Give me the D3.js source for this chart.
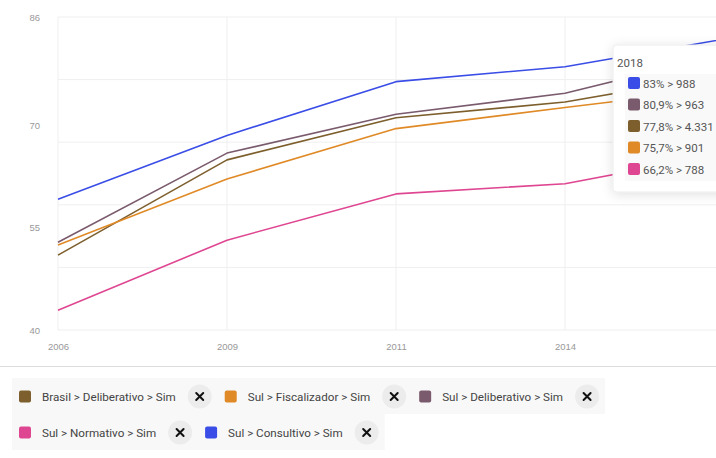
<!DOCTYPE html>
<html>
<head>
<meta charset="utf-8">
<script src="https://cdn.jsdelivr.net/npm/d3@7"></script>
<style>
  html, body { margin: 0; padding: 0; background: #fff; overflow: hidden; }
  svg { display: block; }
</style>
</head>
<body>
<svg id="chart" width="716" height="458"></svg>
<script>
// Years on the x axis
const years = ["2006", "2009", "2011", "2014", "2018"];

// Share of municipalities answering "Sim" (%) per council type
const brasilDeliberativo = [51.0, 65.0, 71.2, 73.5, 77.8];
const sulFiscalizador    = [52.5, 62.2, 69.6, 72.7, 75.7];
const sulDeliberativo    = [52.9, 66.0, 71.7, 74.8, 80.9];
const sulNormativo       = [42.9, 53.2, 60.0, 61.5, 66.2];
const sulConsultivo      = [59.2, 68.6, 76.5, 78.7, 83.0];

// Municipality counts shown in the 2018 tooltip
const counts2018 = { bd: "4.331", sf: "901", sd: "963", sn: "788", sc: "988" };

// Y axis labels
const yTickLabels = [40, 55, 70, 86];

const series = [
  { key: "bd", name: "Brasil > Deliberativo > Sim", values: brasilDeliberativo, color: "#7d5f2e" },
  { key: "sf", name: "Sul > Fiscalizador > Sim",    values: sulFiscalizador,    color: "#e08a27" },
  { key: "sd", name: "Sul > Deliberativo > Sim",    values: sulDeliberativo,    color: "#7a5b6d" },
  { key: "sn", name: "Sul > Normativo > Sim",       values: sulNormativo,       color: "#df4691" },
  { key: "sc", name: "Sul > Consultivo > Sim",      values: sulConsultivo,      color: "#3a4de6" }
];

const svg = d3.select("#chart");
const W = 716;

const x = d3.scalePoint().domain(years).range([58, 734]);
const y = d3.scaleLinear().domain([40, 86]).range([330, 17]);

const defs = svg.append("defs");
const shadow = defs.append("filter").attr("id", "tipShadow")
  .attr("x", "-40%").attr("y", "-40%").attr("width", "180%").attr("height", "180%");
shadow.append("feDropShadow").attr("dx", 0).attr("dy", 2).attr("stdDeviation", 6)
  .attr("flood-color", "#000").attr("flood-opacity", 0.12);

// Grid: horizontal lines split the value range in five equal bands
const grid = svg.append("g");
const gridVals = d3.range(6).map(i => 40 + i * (86 - 40) / 5);
grid.selectAll("line.h").data(gridVals).join("line")
  .attr("x1", x(years[0])).attr("x2", W)
  .attr("y1", d => y(d)).attr("y2", d => y(d))
  .attr("stroke", "#efefef").attr("stroke-width", 1);
grid.selectAll("line.v").data(years).join("line")
  .attr("x1", d => x(d)).attr("x2", d => x(d))
  .attr("y1", y(86)).attr("y2", y(40))
  .attr("stroke", "#efefef").attr("stroke-width", 1);

// Y axis labels
const yAxis = d3.axisLeft(y).tickValues(yTickLabels).tickSize(0).tickPadding(0);
svg.append("g").attr("transform", "translate(40,0)").call(yAxis)
  .call(g => g.select(".domain").remove())
  .call(g => g.selectAll("text").attr("fill", "#999")
    .attr("font-family", "'Liberation Sans', Arial, sans-serif").attr("font-size", "9.5px"));

// X axis labels
const xAxis = d3.axisBottom(x).tickSize(0).tickPadding(0);
svg.append("g").attr("transform", "translate(0,343)").call(xAxis)
  .call(g => g.select(".domain").remove())
  .call(g => g.selectAll("text").attr("fill", "#999")
    .attr("font-family", "'Liberation Sans', Arial, sans-serif").attr("font-size", "9.5px"));

// Lines
const line = d3.line().x((d, i) => x(years[i])).y(d => y(d));
svg.append("g").selectAll("path").data(series).join("path")
  .attr("d", d => line(d.values))
  .attr("fill", "none")
  .attr("stroke", d => d.color)
  .attr("stroke-width", 1.6)
  .attr("stroke-linejoin", "round");

// Separator above the legend
svg.append("line").attr("x1", 0).attr("x2", W).attr("y1", 366.5).attr("y2", 366.5)
  .attr("stroke", "#dcdcdc").attr("stroke-width", 1);

// Tooltip for 2018
const tip = svg.append("g").attr("transform", "translate(613,45)");
tip.append("rect").attr("width", 130).attr("height", 147).attr("rx", 3)
  .attr("fill", "#fff").attr("stroke", "#ececec").attr("filter", "url(#tipShadow)");
tip.append("text").attr("x", 4).attr("y", 22).text(years[4])
  .attr("fill", "#555").attr("font-family", "Roboto, sans-serif").attr("font-size", "11.5px");
tip.append("rect").attr("x", 12).attr("y", 29).attr("width", 120).attr("height", 107)
  .attr("fill", "#f9f9f9");
const tipRows = series.slice().sort((a, b) => b.values[4] - a.values[4]);
const tipItem = tip.selectAll("g.item").data(tipRows).join("g")
  .attr("transform", (d, i) => `translate(15,${32 + i * 21.5})`);
tipItem.append("rect").attr("width", 12).attr("height", 12).attr("rx", 2)
  .attr("fill", d => d.color);
tipItem.append("text").attr("x", 15).attr("y", 10.5)
  .text(d => `${d3.format(".1f")(d.values[4]).replace(/\.0$/, "").replace(".", ",")}% > ${counts2018[d.key]}`)
  .attr("fill", "#555").attr("font-family", "Roboto, sans-serif").attr("font-size", "11.5px");

// Legend chips laid out in flowing rows
const legend = svg.append("g");
const rowsY = [378, 414];
const legendRows = [series.slice(0, 3), series.slice(3)];
legendRows.forEach((row, r) => {
  let cx = 12;
  row.forEach(s => {
    const g = legend.append("g").attr("transform", `translate(${cx},${rowsY[r]})`);
    const bg = g.append("rect").attr("height", 36).attr("fill", "#f8f8f8");
    g.append("rect").attr("x", 7).attr("y", 12.5).attr("width", 12).attr("height", 12).attr("rx", 2)
      .attr("fill", s.color);
    const t = g.append("text").attr("x", 30).attr("y", 22.5).text(s.name)
      .attr("fill", "#444").attr("font-family", "Roboto, sans-serif").attr("font-size", "11.65px");
    const tw = t.node().getComputedTextLength();
    const ccx = 30 + tw + 24;
    g.append("circle").attr("cx", ccx).attr("cy", 18.5).attr("r", 12).attr("fill", "#ececec");
    g.append("path")
      .attr("d", `M${ccx - 3.5},${15} L${ccx + 3.5},${22} M${ccx + 3.5},${15} L${ccx - 3.5},${22}`)
      .attr("stroke", "#111").attr("stroke-width", 2).attr("stroke-linecap", "round");
    const w = ccx + 18;
    bg.attr("width", w);
    cx += w;
  });
});
</script>
</body>
</html>
